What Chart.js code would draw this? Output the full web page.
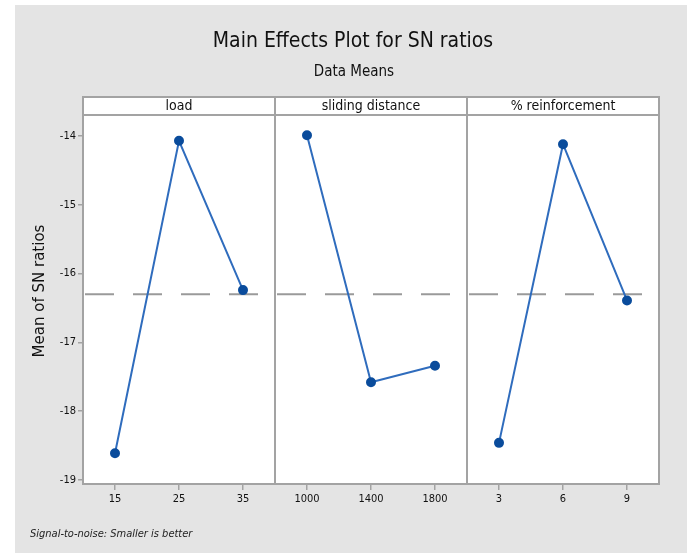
<!DOCTYPE html>
<html>
<head>
<meta charset="utf-8">
<script src="https://cdn.jsdelivr.net/npm/chart.js@4.4.1/dist/chart.umd.min.js"></script>
<style>
  html, body { margin: 0; padding: 0; background: #fff; }
  #wrap { width: 693px; height: 553px; }
</style>
</head>
<body>
<div id="wrap"><canvas id="mainEffects" width="693" height="553"></canvas></div>
<script>
// factor levels (tick labels) and mean SN ratios
const factorNames = ['load', 'sliding distance', '% reinforcement'];
const loadLevels = ['15', '25', '35'];
const slideLevels = ['1000', '1400', '1800'];
const reinfLevels = ['3', '6', '9'];
const loadSN = [-18.61, -14.07, -16.24];
const slideSN = [-13.99, -17.58, -17.34];
const reinfSN = [-18.46, -14.12, -16.39];
const grandMean = -16.30;
const yTicks = [-19, -18, -17, -16, -15, -14];

const NARROW = '"Liberation Sans Narrow", "DejaVu Sans Condensed", "Arial Narrow", sans-serif';
const lineBlue = '#2f6cbd';
const dotBlue = '#0a4c9c';
const frameGray = '#a3a3a3';

const allLevels = [...loadLevels, ...slideLevels, ...reinfLevels];
const levelSets = [loadLevels, slideLevels, reinfLevels];
const snSets = [loadSN, slideSN, reinfSN];

const datasets = snSets.map((vals, i) => ({
  label: factorNames[i],
  data: vals.map((v, j) => ({ x: levelSets[i][j], y: v })),
  borderColor: lineBlue,
  backgroundColor: dotBlue,
  pointBackgroundColor: dotBlue,
  pointBorderColor: dotBlue,
  borderWidth: 2,
  pointRadius: 4,
  tension: 0
}));

// background, panels, dashed mean line and all the Minitab-style labels
const panelPlugin = {
  id: 'panelPlugin',
  beforeDraw(chart) {
    const { ctx, chartArea: a } = chart;
    ctx.save();
    ctx.fillStyle = '#e4e4e4';
    ctx.fillRect(15, 5, 672, 548);
    ctx.fillStyle = '#fff';
    ctx.fillRect(a.left, a.top, a.right - a.left, a.bottom - a.top);
    ctx.restore();
  },
  beforeDatasetsDraw(chart) {
    const { ctx, chartArea: a, scales } = chart;
    const x = scales.x, y = scales.y;
    const edges = [-0.5, 2.5, 5.5, 8.5].map(v => x.getPixelForValue(v));
    const ym = y.getPixelForValue(grandMean);
    ctx.save();
    // dashed reference line, restarted in each panel
    ctx.strokeStyle = '#9a9a9a';
    ctx.lineWidth = 2;
    ctx.setLineDash([29, 19]);
    for (let p = 0; p < 3; p++) {
      ctx.beginPath();
      ctx.moveTo(edges[p] + 2, ym);
      ctx.lineTo(edges[p + 1], ym);
      ctx.stroke();
    }
    ctx.setLineDash([]);
    // header strip
    const hTop = a.top - 18;
    ctx.fillStyle = '#fff';
    ctx.fillRect(a.left, hTop, a.right - a.left, 18);
    ctx.strokeStyle = frameGray;
    ctx.lineWidth = 2;
    ctx.strokeRect(a.left, hTop, a.right - a.left, a.bottom - hTop);
    ctx.beginPath();
    ctx.moveTo(a.left, a.top);
    ctx.lineTo(a.right, a.top);
    for (let p = 1; p < 3; p++) {
      ctx.moveTo(edges[p], hTop);
      ctx.lineTo(edges[p], a.bottom);
    }
    ctx.stroke();
    ctx.fillStyle = '#111';
    ctx.font = '14px ' + NARROW;
    ctx.textAlign = 'center';
    ctx.textBaseline = 'middle';
    for (let p = 0; p < 3; p++) {
      ctx.fillText(factorNames[p], (edges[p] + edges[p + 1]) / 2, hTop + 9);
    }
    ctx.restore();
  },
  afterDraw(chart) {
    const { ctx } = chart;
    ctx.save();
    ctx.fillStyle = '#111';
    ctx.textAlign = 'center';
    ctx.textBaseline = 'middle';
    ctx.font = '21px ' + NARROW;
    ctx.fillText('Main Effects Plot for SN ratios', 353, 42);
    ctx.font = '15px ' + NARROW;
    ctx.fillText('Data Means', 354, 72);
    ctx.font = '15px "DejaVu Sans", sans-serif';
    ctx.translate(40, 291);
    ctx.rotate(-Math.PI / 2);
    ctx.fillText('Mean of SN ratios', 0, 0);
    ctx.restore();
    ctx.save();
    ctx.fillStyle = '#222';
    ctx.font = 'italic 11px ' + NARROW;
    ctx.textAlign = 'left';
    ctx.textBaseline = 'middle';
    ctx.fillText('Signal-to-noise: Smaller is better', 30, 534);
    ctx.restore();
  }
};

new Chart(document.getElementById('mainEffects'), {
  type: 'line',
  data: { labels: allLevels, datasets: datasets },
  options: {
    responsive: false,
    animation: false,
    layout: { padding: { top: 115, right: 34, bottom: 29, left: 0 } },
    plugins: { legend: { display: false }, tooltip: { enabled: false } },
    scales: {
      x: {
        type: 'category',
        offset: true,
        border: { display: false },
        grid: { drawOnChartArea: false, drawTicks: true, tickLength: 6, color: frameGray, lineWidth: 1.5 },
        ticks: { color: '#111', font: { family: NARROW, size: 11 }, padding: 3, maxRotation: 0, autoSkip: false },
        afterFit(s) { s.height = 40; }
      },
      y: {
        min: -19.058,
        max: -13.695,
        border: { display: false },
        grid: { drawOnChartArea: false, drawTicks: true, tickLength: 5, color: frameGray, lineWidth: 1.5 },
        ticks: { color: '#111', font: { family: NARROW, size: 11 }, padding: 2 },
        afterBuildTicks(s) { s.ticks = yTicks.map(v => ({ value: v })); },
        afterFit(s) { s.width = 83; }
      }
    }
  },
  plugins: [panelPlugin]
});
</script>
</body>
</html>
